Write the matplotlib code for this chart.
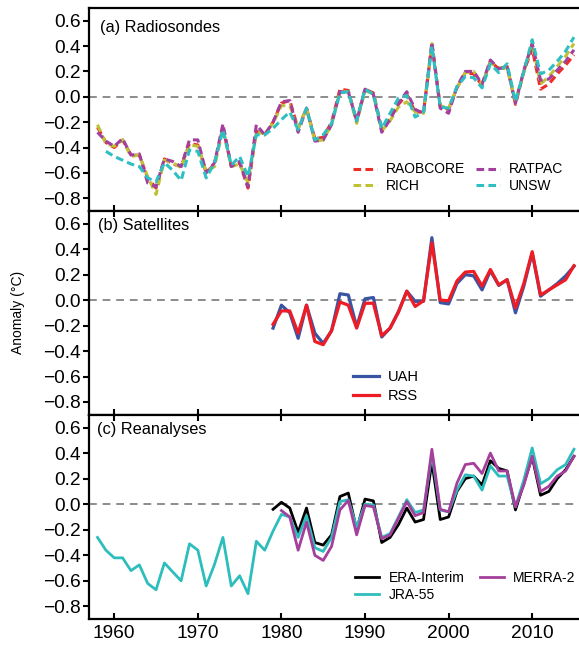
import numpy as np
import matplotlib
matplotlib.use('Agg')
import matplotlib.pyplot as plt

plt.rcParams['font.family'] = ['Liberation Sans', 'DejaVu Sans']

# years
yrs_a = np.arange(1958, 2016)
yrs_unsw = np.arange(1959, 2016)
yrs_sat = np.arange(1979, 2016)
yrs_jra = np.arange(1958, 2016)
yrs_era = np.arange(1979, 2016)
yrs_merra = np.arange(1980, 2016)

# (a) radiosondes
raobcore = [-0.24, -0.36, -0.40, -0.34, -0.46, -0.46, -0.64, -0.72, -0.49, -0.53,
            -0.55, -0.37, -0.38, -0.60, -0.53, -0.24, -0.55, -0.52, -0.72, -0.27,
            -0.30, -0.20, -0.05, -0.03, -0.25, -0.09, -0.33, -0.32, -0.20,
            0.06, 0.05, -0.19, 0.06, 0.03, -0.25, -0.17, -0.06, 0.02, -0.12,
            -0.12, 0.41, -0.08, -0.10, 0.07, 0.19, 0.18, 0.09, 0.28, 0.22,
            0.24, -0.06, 0.20, 0.38, 0.06, 0.10, 0.18, 0.25, 0.33]
rich = [-0.22, -0.37, -0.39, -0.34, -0.47, -0.46, -0.63, -0.77, -0.50, -0.52,
        -0.56, -0.38, -0.39, -0.59, -0.55, -0.25, -0.55, -0.53, -0.68, -0.28,
        -0.29, -0.21, -0.07, -0.07, -0.25, -0.09, -0.35, -0.34, -0.22,
        0.04, 0.04, -0.21, 0.05, 0.02, -0.27, -0.19, -0.08, -0.04, -0.12,
        -0.13, 0.42, -0.07, -0.09, 0.07, 0.19, 0.20, 0.10, 0.27, 0.23,
        0.22, -0.03, 0.19, 0.42, 0.10, 0.16, 0.24, 0.32, 0.42]
ratpac = [-0.28, -0.35, -0.39, -0.33, -0.46, -0.45, -0.68, -0.71, -0.49, -0.51,
          -0.55, -0.34, -0.34, -0.60, -0.52, -0.215, -0.55, -0.51, -0.71, -0.22,
          -0.30, -0.20, -0.04, -0.03, -0.28, -0.09, -0.35, -0.34, -0.22,
          0.04, 0.04, -0.19, 0.06, 0.02, -0.28, -0.18, -0.05, 0.04, -0.10,
          -0.13, 0.43, -0.09, -0.13, 0.08, 0.20, 0.20, 0.10, 0.29, 0.22,
          0.24, -0.05, 0.21, 0.42, 0.13, 0.14, 0.21, 0.28, 0.37]
unsw = [-0.43, -0.47, -0.50, -0.53, -0.55, -0.64, -0.67, -0.52, -0.58,
        -0.66, -0.42, -0.43, -0.64, -0.52, -0.26, -0.54, -0.47, -0.63, -0.30,
        -0.30, -0.25, -0.18, -0.12, -0.26, -0.09, -0.34, -0.30, -0.21,
        0.03, 0.04, -0.19, 0.06, 0.02, -0.25, -0.13, -0.01, 0.01, -0.16,
        -0.12, 0.40, -0.08, -0.09, 0.08, 0.16, 0.15, 0.07, 0.26, 0.19,
        0.26, -0.04, 0.20, 0.45, 0.18, 0.21, 0.28, 0.36, 0.47]

# (b) satellites
uah = [-0.22, -0.04, -0.10, -0.30, -0.04, -0.26, -0.34, -0.24, 0.05, 0.04,
       -0.21, 0.01, 0.02, -0.29, -0.22, -0.09, 0.07, -0.01, -0.01, 0.49,
       -0.02, -0.03, 0.13, 0.20, 0.19, 0.08, 0.23, 0.115, 0.16, -0.10,
       0.11, 0.37, 0.03, 0.08, 0.13, 0.19, 0.265]
rss = [-0.19, -0.085, -0.085, -0.26, -0.04, -0.325, -0.35, -0.24, -0.015, -0.04,
       -0.22, -0.025, -0.025, -0.28, -0.22, -0.095, 0.07, -0.05, -0.005, 0.45,
       0.0, -0.005, 0.15, 0.22, 0.225, 0.11, 0.24, 0.12, 0.16, -0.06,
       0.13, 0.38, 0.04, 0.08, 0.12, 0.16, 0.27]

# (c) reanalyses
jra55 = [-0.26, -0.36, -0.42, -0.42, -0.52, -0.475, -0.62, -0.67, -0.46, -0.53,
         -0.60, -0.31, -0.36, -0.64, -0.47, -0.26, -0.64, -0.56, -0.70, -0.29,
         -0.36, -0.21, -0.08, -0.10, -0.26, -0.09, -0.34, -0.37, -0.26,
         0.02, 0.035, -0.18, 0.0, -0.005, -0.26, -0.23, -0.10, 0.035, -0.065,
         -0.045, 0.39, -0.045, -0.06, 0.11, 0.23, 0.22, 0.11, 0.30, 0.22,
         0.22, -0.02, 0.19, 0.44, 0.16, 0.20, 0.27, 0.31, 0.43]
era_interim = [-0.04, 0.015, -0.03, -0.22, -0.03, -0.30, -0.32, -0.24,
               0.06, 0.087, -0.20, 0.04, 0.026, -0.30, -0.26, -0.16, -0.03, -0.14,
               -0.12, 0.33, -0.12, -0.10, 0.10, 0.20, 0.22, 0.15, 0.34, 0.28,
               0.26, -0.045, 0.165, 0.37, 0.07, 0.10, 0.20, 0.27, 0.375]
merra2 = [-0.05, -0.10, -0.36, -0.14, -0.40, -0.44, -0.33,
          -0.045, 0.03, -0.24, -0.01, -0.02, -0.27, -0.24, -0.11, 0.02, -0.09,
          -0.065, 0.43, -0.04, -0.06, 0.165, 0.31, 0.32, 0.24, 0.40, 0.26,
          0.26, -0.02, 0.15, 0.375, 0.10, 0.14, 0.22, 0.26, 0.375]

fig = plt.figure(figsize=(5.79, 6.45), dpi=100)
left, width = 0.154, 0.846
bounds = [(0.673, 0.3146), (0.357, 0.316), (0.040, 0.317)]
axes = [fig.add_axes([left, b, width, h]) for b, h in bounds]

dash = (0, (2.5, 1.4))
ax = axes[0]
ax.plot(yrs_a, raobcore, color='#ee2b24', lw=2.2, ls=dash, label='RAOBCORE')
ax.plot(yrs_a, rich, color='#bfc236', lw=2.2, ls=dash, label='RICH')
ax.plot(yrs_a, ratpac, color='#a2409e', lw=2.2, ls=dash, label='RATPAC')
ax.plot(yrs_unsw, unsw, color='#2ebfc2', lw=2.2, ls=dash, label='UNSW')
ax.legend(loc='center left', bbox_to_anchor=(0.538, 0.163), ncol=2, frameon=False,
          fontsize=10, borderpad=0, borderaxespad=0, handlelength=1.75,
          handletextpad=0.65, columnspacing=0.75, labelspacing=0.2)
ax.text(0.022, 0.905, '(a) Radiosondes', transform=ax.transAxes, fontsize=11.8, va='center')

ax = axes[1]
ax.plot(yrs_sat, uah, color='#3a54a4', lw=2.3, label='UAH')
ax.plot(yrs_sat, rss, color='#ee1c24', lw=2.3, label='RSS')
ax.legend(loc='center left', bbox_to_anchor=(0.539, 0.139), ncol=1, frameon=False,
          fontsize=10.5, borderpad=0, borderaxespad=0, handlelength=1.75,
          handletextpad=0.65, labelspacing=0.35)
ax.text(0.018, 0.928, '(b) Satellites', transform=ax.transAxes, fontsize=11.8, va='center')

ax = axes[2]
ax.plot(yrs_era, era_interim, color='black', lw=2.0, label='ERA-Interim')
ax.plot(yrs_jra, jra55, color='#2ebdbd', lw=2.0, label='JRA-55')
ax.plot(yrs_merra, merra2, color='#a4409c', lw=2.0, label='MERRA-2')
ax.legend(loc='center left', bbox_to_anchor=(0.543, 0.159), ncol=2, frameon=False,
          fontsize=10, borderpad=0, borderaxespad=0, handlelength=1.75,
          handletextpad=0.65, columnspacing=1.1, labelspacing=0.2)
ax.text(0.016, 0.93, '(c) Reanalyses', transform=ax.transAxes, fontsize=11.8, va='center')

for i, ax in enumerate(axes):
    ax.axhline(0, color='#8c8c8c', lw=1.4, ls=(0, (4, 3)), zorder=0)
    ax.set_xlim(1957.0, 2015.6)
    ax.set_ylim(-0.9, 0.7)
    ax.set_yticks([0.6, 0.4, 0.2, 0.0, -0.2, -0.4, -0.6, -0.8])
    ax.set_yticklabels(['0.6', '0.4', '0.2', '0.0', '\u22120.2', '\u22120.4', '\u22120.6', '\u22120.8'])
    ax.set_xticks([1960, 1970, 1980, 1990, 2000, 2010])
    ax.tick_params(axis='y', direction='out', length=4, width=1.5, labelsize=13.8, pad=2)
    ax.tick_params(axis='x', direction='in', length=4, width=1.5, labelsize=13.8,
                   top=(i > 0), labelbottom=(i == 2), pad=4)
    for s in ['left', 'bottom', 'top']:
        ax.spines[s].set_linewidth(1.6)
    ax.spines['right'].set_visible(False)

fig.text(0.031, 0.515, 'Anomaly (\u00b0C)', rotation=90, va='center', ha='center', fontsize=10)

fig.savefig('out.png', dpi=100)
